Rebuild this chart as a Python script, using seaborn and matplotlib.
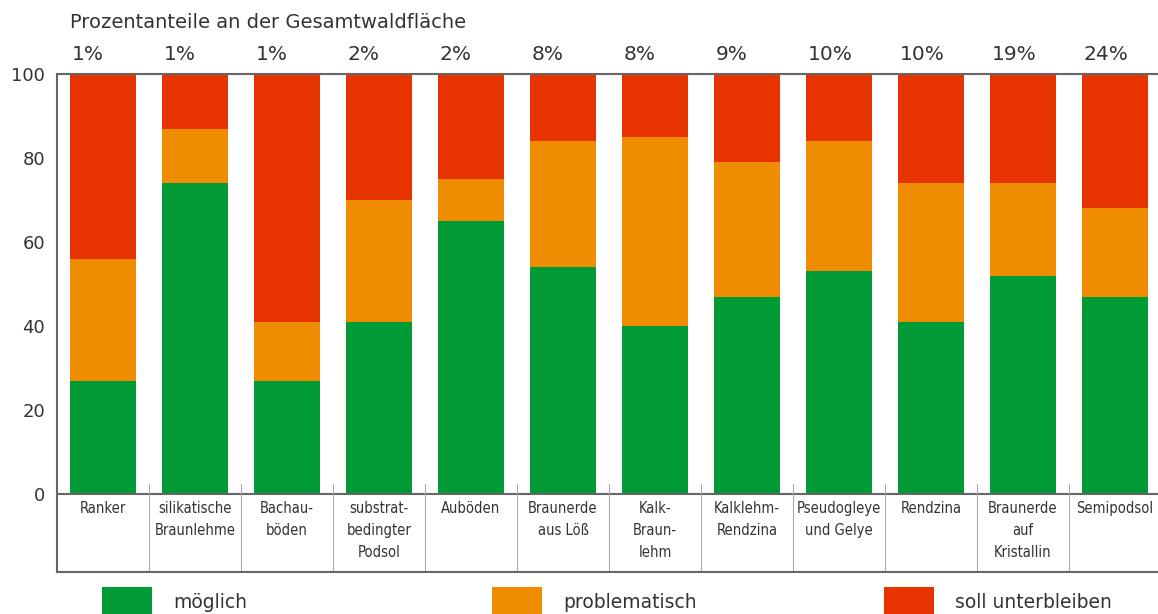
import matplotlib
matplotlib.use("Agg")
import matplotlib.pyplot as plt
from matplotlib.patches import Rectangle
import seaborn as sns
import pandas as pd

# soil types (table row below the bars)
categories = [
    "Ranker", "silikatische\nBraunlehme", "Bachau-\nböden", "substrat-\nbedingter\nPodsol",
    "Auböden", "Braunerde\naus Löß", "Kalk-\nBraun-\nlehm", "Kalklehm-\nRendzina",
    "Pseudogleye\nund Gelye", "Rendzina", "Braunerde\nauf\nKristallin", "Semipodsol",
]
# share of total forest area
area_share = ["1%", "1%", "1%", "2%", "2%", "8%", "8%", "9%", "10%", "10%", "19%", "24%"]

# percentages per category
moeglich = [27, 74, 27, 41, 65, 54, 40, 47, 53, 41, 52, 47]
problematisch = [29, 13, 14, 29, 10, 30, 45, 32, 31, 33, 22, 21]
soll_unterbleiben = [100 - m - p for m, p in zip(moeglich, problematisch)]

series_names = ["möglich", "problematisch", "soll unterbleiben"]
colors = ["#009B36", "#F08C00", "#E63300"]

df = pd.DataFrame({
    "cat": categories,
    "g": moeglich,
    "o": problematisch,
    "r": soll_unterbleiben,
})
df["go"] = df["g"] + df["o"]
df["gor"] = df["go"] + df["r"]

sns.set_style("white")
plt.rcParams["font.family"] = ["DejaVu Sans"]
text_col = "#333333"

fig = plt.figure(figsize=(11.58, 6.14), dpi=100)
ax = fig.add_axes([57 / 1158, 42 / 614, 1 - 57 / 1158, (572 - 74) / 614])

bw = 0.717
sns.barplot(data=df, x="cat", y="gor", color=colors[2], width=bw, ax=ax, saturation=1, linewidth=0)
sns.barplot(data=df, x="cat", y="go", color=colors[1], width=bw, ax=ax, saturation=1, linewidth=0)
sns.barplot(data=df, x="cat", y="g", color=colors[0], width=bw, ax=ax, saturation=1, linewidth=0)

n = len(categories)
ybot = -78 / 4.2
ax.set_xlim(-0.5, -0.5 + (1158 - 57) / 92)
ax.set_ylim(ybot, 100)

for s in ["left", "top", "bottom"]:
    ax.spines[s].set_color("#666666")
    ax.spines[s].set_linewidth(1.5)
ax.spines["right"].set_visible(False)

ax.set_yticks([0, 20, 40, 60, 80, 100])
ax.tick_params(axis="y", direction="in", length=7, width=1, color="#bbbbbb",
               labelsize=13, labelcolor=text_col, pad=8.5)
ax.set_xticks([])
ax.set_xlabel("")
ax.set_ylabel("")

# zero line and table grid
ax.axhline(0, color="#666666", lw=1.5)
for i in range(n):
    ax.plot([i + 0.5, i + 0.5], [2.4, ybot], color="#aaaaaa", lw=0.8, clip_on=False)

for i, lab in enumerate(categories):
    ax.text(i, -1.6, lab, ha="center", va="top", fontsize=10.5, color=text_col,
            fontstretch="condensed", linespacing=1.6, family=["Liberation Sans Narrow", "DejaVu Sans"])

# area share above bars
for i, s in enumerate(area_share):
    ax.text(i - bw / 2 + 0.02, 102.3, s, ha="left", va="bottom", fontsize=14.5, color=text_col)

fig.text(70 / 1158, 1 - 23 / 614, "Prozentanteile an der Gesamtwaldfläche", ha="left",
         va="center", fontsize=14, color=text_col)

# legend
leg_x = [102, 492, 884]
for x, name, c in zip(leg_x, series_names, colors):
    fig.patches.append(Rectangle((x / 1158, -0.01), 50 / 1158, 33 / 614, transform=fig.transFigure,
                                 facecolor=c, edgecolor="none"))
    fig.text((x + 71) / 1158, 1 - 603 / 614, name, ha="left", va="center", fontsize=13.5, color=text_col)

plt.savefig("out.png", dpi=100)
